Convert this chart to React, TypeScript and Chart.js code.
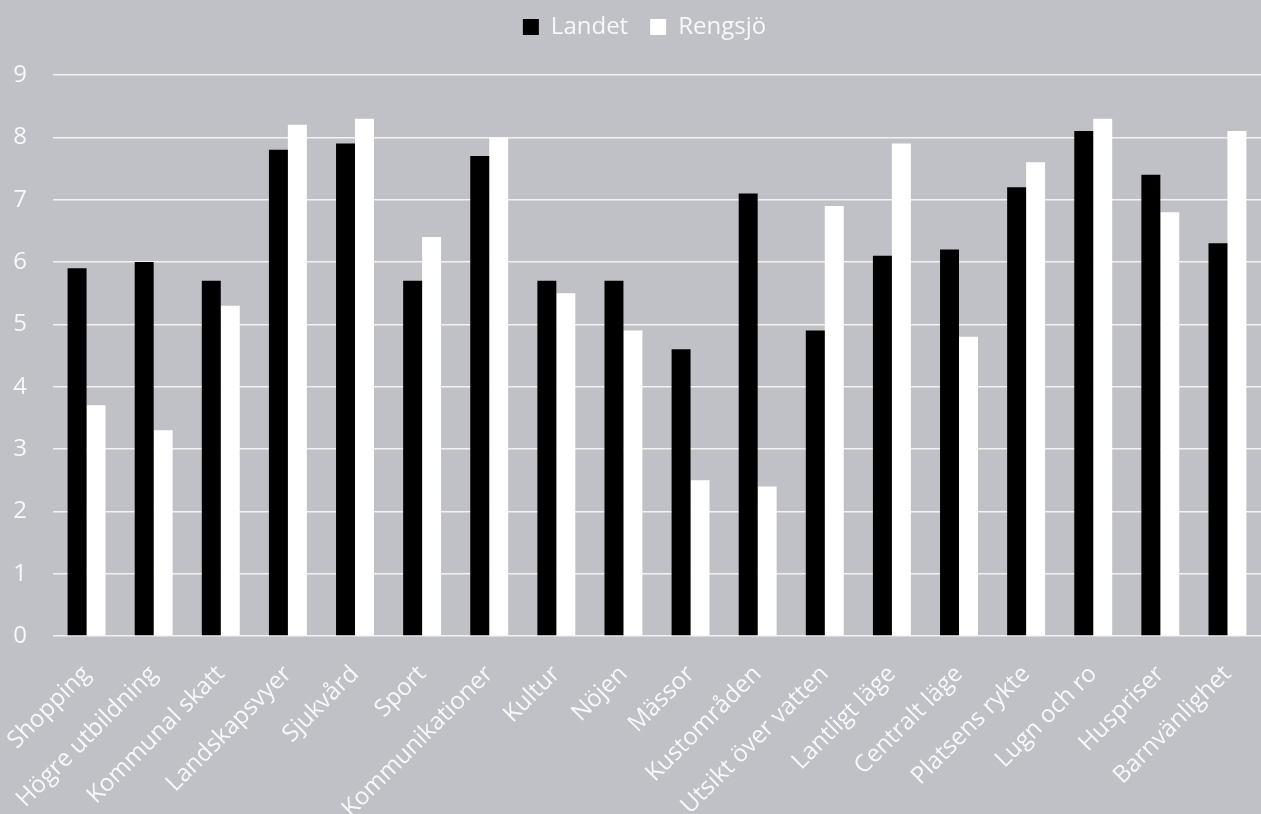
import React, { useEffect, useRef } from "react";
import { Chart, registerables } from "chart.js";

Chart.register(...registerables);

const categories = [
  "Shopping",
  "Högre utbildning",
  "Kommunal skatt",
  "Landskapsvyer",
  "Sjukvård",
  "Sport",
  "Kommunikationer",
  "Kultur",
  "Nöjen",
  "Mässor",
  "Kustområden",
  "Utsikt över vatten",
  "Lantligt läge",
  "Centralt läge",
  "Platsens rykte",
  "Lugn och ro",
  "Huspriser",
  "Barnvänlighet",
];

const landet = [5.9, 6.0, 5.7, 7.8, 7.9, 5.7, 7.7, 5.7, 5.7, 4.6, 7.1, 4.9, 6.1, 6.2, 7.2, 8.1, 7.4, 6.3];
const rengsjo = [3.7, 3.3, 5.3, 8.2, 8.3, 6.4, 8.0, 5.5, 4.9, 2.5, 2.4, 6.9, 7.9, 4.8, 7.6, 8.3, 6.8, 8.1];

const seriesNames = ["Landet", "Rengsjö"];
const yTicks = [0, 1, 2, 3, 4, 5, 6, 7, 8, 9];

const FONT = "'Open Sans', 'Noto Sans', sans-serif";
const TEXT = "#f8f8f8";

const legendTweak = {
  id: "legendTweak",
  beforeInit(chart: any) {
    const lg = chart.legend;
    if (!lg) return;
    const fit = lg.fit;
    lg.fit = function () {
      fit.call(this);
      this.height += 26;
    };
  },
  afterLayout(chart: any) {
    const lg = chart.legend;
    if (!lg) return;
    lg.left += 14;
    lg.right += 14;
  },
};

export default function App() {
  const ref = useRef<HTMLCanvasElement | null>(null);

  useEffect(() => {
    if (!ref.current) return;
    const chart = new Chart(ref.current, {
      type: "bar",
      plugins: [legendTweak],
      data: {
        labels: categories,
        datasets: [
          {
            label: seriesNames[0],
            data: landet,
            backgroundColor: "#000000",
            borderWidth: 0,
            barPercentage: 1,
            categoryPercentage: 0.565,
          },
          {
            label: seriesNames[1],
            data: rengsjo,
            backgroundColor: "#ffffff",
            borderWidth: 0,
            barPercentage: 1,
            categoryPercentage: 0.565,
          },
        ],
      },
      options: {
        animation: false,
        responsive: false,
        maintainAspectRatio: false,
        layout: { padding: { top: -7, left: 0, right: 0, bottom: 0 } },
        plugins: {
          tooltip: { enabled: false },
          legend: {
            position: "top",
            align: "center",
            labels: {
              color: TEXT,
              boxWidth: 16,
              boxHeight: 16,
              padding: 22,
              font: { family: FONT, size: 24 },
            },
          },
        },
        scales: {
          x: {
            grid: { display: false, drawTicks: false },
            border: { display: false },
            ticks: {
              color: TEXT,
              font: { family: FONT, size: 24 },
              minRotation: 45,
              maxRotation: 45,
              autoSkip: false,
              padding: 24,
            },
            afterFit: (s: any) => {
              s.height = 178;
              s.paddingLeft = 0;
              s.paddingRight = 0;
            },
          },
          y: {
            min: 0,
            max: 9,
            afterBuildTicks: (s: any) => {
              s.ticks = yTicks.map((v) => ({ value: v }));
            },
            grid: { color: "#f2f2f2", lineWidth: 1.5, drawTicks: false },
            border: { display: false },
            ticks: {
              color: TEXT,
              font: { family: FONT, size: 24 },
              padding: 26,
            },
            afterFit: (s: any) => {
              s.width = 53;
              s.paddingTop = 0;
              s.paddingBottom = 0;
            },
          },
        },
      },
    });
    return () => chart.destroy();
  }, []);

  return (
    <div
      style={{
        position: "fixed",
        left: 0,
        top: 0,
        width: 1261,
        height: 814,
        background: "#c0c1c6",
      }}
    >
      <canvas ref={ref} width={1261} height={814} style={{ display: "block" }} />
    </div>
  );
}
